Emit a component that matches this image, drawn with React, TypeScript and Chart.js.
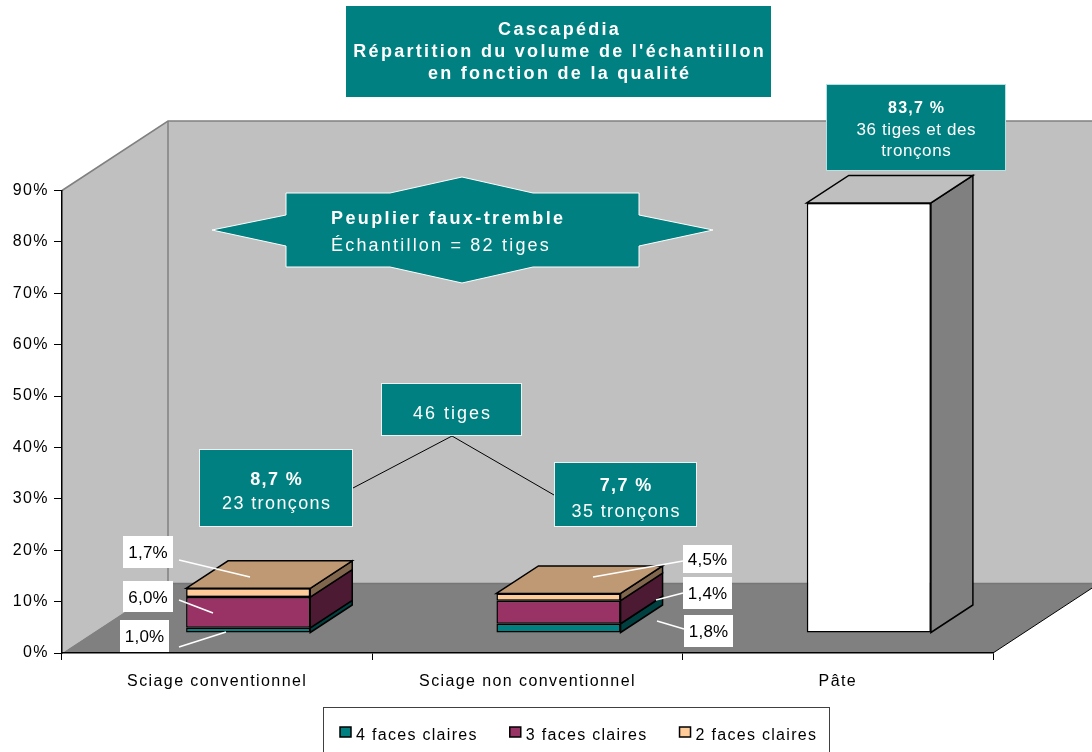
import React, { useEffect, useRef } from "react";
import { Chart, registerables } from "chart.js";

Chart.register(...registerables);

// ---------------- data ----------------
const categories = ["Sciage conventionnel", "Sciage non conventionnel", "Pâte"];
const qualityNames = ["4 faces claires", "3 faces claires", "2 faces claires"];
const fourFaces: (number | null)[] = [1.0, 1.8, null];
const threeFaces: (number | null)[] = [6.0, 4.5, null];
const twoFaces: (number | null)[] = [1.7, 1.4, null];
const pateValues: (number | null)[] = [null, null, 83.7];
const yMax = 90;
const yStep = 10;
const segLabelsConv = ["1,0%", "6,0%", "1,7%"]; // bottom -> top
const segLabelsNonConv = ["1,8%", "1,4%", "4,5%"]; // bottom -> top

const titleLines = ["Cascapédia", "Répartition du volume de l'échantillon", "en fonction de la qualité"];
const starLines = ["Peuplier faux-tremble", "Échantillon = 82 tiges"];

// ---------------- styles ----------------
const FONT = "'Liberation Sans', Arial, Helvetica, sans-serif";
const TEAL = "#008080";
const MAGENTA = "#993366";
const PEACH = "#FFCC99";
const WHITE = "#FFFFFF";

const WALL_DEPTH = { x: 106, y: -69.5 };
const BAR_SHIFT = { x: 31, y: -20 };
const BAR_DEPTH = { x: 42, y: -27.5 };

function shade(hex: string, f: number) {
  const h = hex.replace("#", "");
  const r = Math.round(parseInt(h.slice(0, 2), 16) * f);
  const g = Math.round(parseInt(h.slice(2, 4), 16) * f);
  const b = Math.round(parseInt(h.slice(4, 6), 16) * f);
  return `rgb(${r},${g},${b})`;
}

function poly(ctx: CanvasRenderingContext2D, pts: number[][], fill?: string, stroke?: string, lw = 1) {
  ctx.beginPath();
  pts.forEach((p, i) => (i === 0 ? ctx.moveTo(p[0], p[1]) : ctx.lineTo(p[0], p[1])));
  ctx.closePath();
  if (fill) {
    ctx.fillStyle = fill;
    ctx.fill();
  }
  if (stroke) {
    ctx.strokeStyle = stroke;
    ctx.lineWidth = lw;
    ctx.lineJoin = "miter";
    ctx.stroke();
  }
}

function line(ctx: CanvasRenderingContext2D, pts: number[][], color: string, lw = 1) {
  ctx.beginPath();
  pts.forEach((p, i) => (i === 0 ? ctx.moveTo(p[0], p[1]) : ctx.lineTo(p[0], p[1])));
  ctx.strokeStyle = color;
  ctx.lineWidth = lw;
  ctx.stroke();
}

function txt(
  ctx: CanvasRenderingContext2D,
  s: string,
  x: number,
  y: number,
  o: { size: number; bold?: boolean; color: string; align?: CanvasTextAlign; spacing?: number }
) {
  const sp = o.spacing ?? 0;
  (ctx as any).letterSpacing = `${sp}px`;
  ctx.font = `${o.bold ? "bold " : ""}${o.size}px ${FONT}`;
  ctx.fillStyle = o.color;
  ctx.textAlign = o.align ?? "center";
  ctx.textBaseline = "alphabetic";
  const dx = (o.align ?? "center") === "center" ? sp / 2 : 0;
  ctx.fillText(s, x + dx, y);
}

function tealBox(ctx: CanvasRenderingContext2D, x0: number, y0: number, x1: number, y1: number, border?: string) {
  ctx.fillStyle = TEAL;
  ctx.fillRect(x0, y0, x1 - x0, y1 - y0);
  if (border) {
    ctx.strokeStyle = border;
    ctx.lineWidth = 1;
    ctx.strokeRect(x0 + 0.5, y0 + 0.5, x1 - x0 - 1, y1 - y0 - 1);
  }
}

const scenePlugin = {
  id: "scene3d",
  beforeDraw(chart: any) {
    const ctx: CanvasRenderingContext2D = chart.ctx;
    const a = chart.chartArea;
    const dx = WALL_DEPTH.x;
    const dy = WALL_DEPTH.y;
    ctx.save();
    ctx.fillStyle = "#fff";
    ctx.fillRect(0, 0, chart.width, chart.height);
    // back wall
    ctx.fillStyle = "#c0c0c0";
    ctx.fillRect(a.left + dx, a.top + dy, a.right - a.left + 200, a.bottom - a.top);
    // left wall
    poly(ctx, [[a.left, a.top], [a.left + dx, a.top + dy], [a.left + dx, a.bottom + dy], [a.left, a.bottom]], "#c0c0c0");
    // floor
    poly(ctx, [[a.left, a.bottom], [a.left + dx, a.bottom + dy], [a.right + dx, a.bottom + dy], [a.right, a.bottom]], "#808080");
    // edges
    line(ctx, [[a.left, a.top], [a.left + dx, a.top + dy], [a.right + dx + 50, a.top + dy]], "#808080", 1.5);
    line(ctx, [[a.left + dx, a.top + dy], [a.left + dx, a.bottom + dy]], "#808080", 1.5);
    line(ctx, [[a.left + dx, a.bottom + dy], [a.right + dx + 50, a.bottom + dy]], "#767676", 1.5);
    line(ctx, [[a.right, a.bottom], [a.right + dx, a.bottom + dy]], "#000", 1);
    ctx.restore();
    (ctx as any).letterSpacing = "1.4px";
  },
  beforeDatasetsDraw(chart: any) {
    chart.ctx.save();
    chart.ctx.translate(BAR_SHIFT.x, BAR_SHIFT.y);
  },
  afterDatasetsDraw(chart: any) {
    const ctx: CanvasRenderingContext2D = chart.ctx;
    ctx.restore();
    ctx.save();
    const n = chart.data.labels.length;
    const bx = BAR_DEPTH.x;
    const by = BAR_DEPTH.y;
    for (let j = 0; j < n; j++) {
      let topDs = -1;
      chart.data.datasets.forEach((ds: any, i: number) => {
        if (ds.data[j] != null) topDs = i;
      });
      chart.data.datasets.forEach((ds: any, i: number) => {
        if (ds.data[j] == null) return;
        const el = chart.getDatasetMeta(i).data[j];
        const { x, y, base, width } = el.getProps(["x", "y", "base", "width"], true);
        const L = x - width / 2 + BAR_SHIFT.x;
        const R = x + width / 2 + BAR_SHIFT.x;
        const T = y + BAR_SHIFT.y;
        const B = base + BAR_SHIFT.y;
        const col = ds.backgroundColor as string;
        poly(ctx, [[R, T], [R + bx, T + by], [R + bx, B + by], [R, B]], shade(col, 0.5), "#000", 1.5);
        if (i === topDs) {
          poly(ctx, [[L, T], [L + bx, T + by], [R + bx, T + by], [R, T]], shade(col, 0.75), "#000", 1.5);
        }
      });
    }
    ctx.restore();
  },
  afterDraw(chart: any) {
    const ctx: CanvasRenderingContext2D = chart.ctx;
    ctx.save();

    // title
    tealBox(ctx, 346, 6, 771, 97);
    txt(ctx, titleLines[0], 558.5, 35, { size: 18, bold: true, color: "#fff", spacing: 2.3 });
    txt(ctx, titleLines[1], 558.5, 57, { size: 18, bold: true, color: "#fff", spacing: 2.3 });
    txt(ctx, titleLines[2], 558.5, 79, { size: 18, bold: true, color: "#fff", spacing: 2.3 });

    // star shape
    poly(
      ctx,
      [
        [212, 230], [286, 215], [286, 193], [390, 193], [462, 177], [533, 193], [639, 193], [639, 215],
        [713, 230], [639, 246], [639, 267], [533, 267], [462, 283], [390, 267], [286, 267], [286, 246],
      ],
      TEAL,
      "#fff",
      1
    );
    txt(ctx, starLines[0], 331, 224, { size: 18, bold: true, color: "#fff", align: "left", spacing: 2.4 });
    txt(ctx, starLines[1], 331, 251, { size: 18, color: "#fff", align: "left", spacing: 2.2 });

    // connector lines
    line(ctx, [[353, 488], [452, 436], [554, 495]], "#000", 1);

    // 46 tiges
    tealBox(ctx, 381, 383, 522, 436, "#f0f0f0");
    txt(ctx, "46 tiges", 451.5, 419, { size: 18, color: "#fff", spacing: 2 });

    // 8,7 %
    tealBox(ctx, 199, 449, 353, 527, "#f0f0f0");
    txt(ctx, "8,7 %", 276, 485, { size: 18, bold: true, color: "#fff", spacing: 1.4 });
    txt(ctx, "23 tronçons", 276, 509, { size: 18, color: "#fff", spacing: 1.4 });

    // 7,7 %
    tealBox(ctx, 554, 462, 697, 527, "#f0f0f0");
    txt(ctx, "7,7 %", 625.5, 491, { size: 18, bold: true, color: "#fff", spacing: 1.4 });
    txt(ctx, "35 tronçons", 625.5, 517, { size: 18, color: "#fff", spacing: 1.4 });

    // 83,7 %
    tealBox(ctx, 826, 84, 1006, 171, "#b8e0e0");
    txt(ctx, "83,7 %", 916, 113, { size: 16, bold: true, color: "#fff", spacing: 1.2 });
    txt(ctx, "36 tiges et des", 916, 135, { size: 17, color: "#fff", spacing: 0.6 });
    txt(ctx, "tronçons", 916, 156, { size: 17, color: "#fff", spacing: 0.6 });

    // data label boxes
    const boxes: [string, number, number, number, number][] = [
      [segLabelsConv[2], 123, 536, 173, 568],
      [segLabelsConv[1], 123, 581, 173, 612],
      [segLabelsConv[0], 120, 620, 169, 652],
      [segLabelsNonConv[2], 683, 545, 732, 573],
      [segLabelsNonConv[1], 683, 577, 732, 609],
      [segLabelsNonConv[0], 684, 615, 733, 647],
    ];
    boxes.forEach(([s, x0, y0, x1, y1]) => {
      ctx.fillStyle = "#fff";
      ctx.fillRect(x0, y0, x1 - x0, y1 - y0);
      txt(ctx, s, (x0 + x1) / 2, (y0 + y1) / 2 + 6, { size: 17, color: "#000", spacing: 0.2 });
    });
    const leaders = [
      [[179, 560], [250, 577]],
      [[179, 600], [213, 613]],
      [[179, 647], [226, 632]],
      [[683, 561], [593, 577]],
      [[683, 593], [656, 600]],
      [[684, 629], [657, 621]],
    ];
    leaders.forEach((l) => line(ctx, l, "#fff", 1.5));

    // legend
    ctx.fillStyle = "#fff";
    ctx.fillRect(323, 707, 507, 60);
    ctx.strokeStyle = "#404040";
    ctx.lineWidth = 1;
    ctx.strokeRect(323.5, 707.5, 506, 60);
    let lx = 340;
    chart.data.datasets.slice(0, 3).forEach((ds: any) => {
      ctx.fillStyle = ds.backgroundColor;
      ctx.fillRect(lx, 727, 11, 10);
      ctx.strokeStyle = "#000";
      ctx.lineWidth = 1.5;
      ctx.strokeRect(lx, 727, 11, 10);
      txt(ctx, ds.label, lx + 16, 740, { size: 16, color: "#000", align: "left", spacing: 1.3 });
      (ctx as any).letterSpacing = "1.3px";
      ctx.font = `16px ${FONT}`;
      lx += 16 + ctx.measureText(ds.label).width + 32;
    });

    ctx.restore();
  },
};

export default function App() {
  const ref = useRef<HTMLCanvasElement | null>(null);

  useEffect(() => {
    if (!ref.current) return;
    const barCommon = {
      borderColor: "#000",
      borderWidth: 1.5,
      borderSkipped: false as const,
      barPercentage: 0.4,
      categoryPercentage: 1.0,
      stack: "s",
    };
    const chart = new Chart(ref.current, {
      type: "bar",
      data: {
        labels: categories,
        datasets: [
          { label: qualityNames[0], data: fourFaces, backgroundColor: TEAL, ...barCommon },
          { label: qualityNames[1], data: threeFaces, backgroundColor: MAGENTA, ...barCommon },
          { label: qualityNames[2], data: twoFaces, backgroundColor: PEACH, ...barCommon },
          { label: categories[2], data: pateValues, backgroundColor: WHITE, ...barCommon },
        ],
      },
      options: {
        responsive: false,
        animation: false,
        devicePixelRatio: 1,
        events: [],
        layout: { padding: { left: 0, top: 190.5, right: 99, bottom: 59 } },
        plugins: {
          legend: { display: false },
          title: { display: false },
          tooltip: { enabled: false },
        },
        scales: {
          x: {
            stacked: true,
            offset: true,
            grid: { offset: true, drawOnChartArea: false, drawTicks: true, tickLength: 7, color: "#000", lineWidth: 1 },
            border: { display: true, color: "#000", width: 1.5 },
            ticks: {
              color: "#000",
              font: { family: FONT, size: 16 },
              padding: 12,
              maxRotation: 0,
              autoSkip: false,
            },
            afterFit: (s: any) => {
              s.height = 40;
            },
          },
          y: {
            stacked: true,
            min: 0,
            max: yMax,
            grid: { drawOnChartArea: false, drawTicks: true, tickLength: 8, color: "#000", lineWidth: 1 },
            border: { display: true, color: "#000", width: 1.5 },
            ticks: {
              stepSize: yStep,
              color: "#000",
              font: { family: FONT, size: 16 },
              padding: 5,
              callback: (v: any) => `${v}%`,
            },
            afterFit: (s: any) => {
              s.width = 62;
            },
          },
        },
      },
      plugins: [scenePlugin],
    });
    return () => chart.destroy();
  }, []);

  return (
    <div style={{ position: "fixed", left: 0, top: 0, width: 1092, height: 752, background: "#fff" }}>
      <canvas ref={ref} width={1092} height={752} style={{ display: "block", width: 1092, height: 752 }} />
    </div>
  );
}
